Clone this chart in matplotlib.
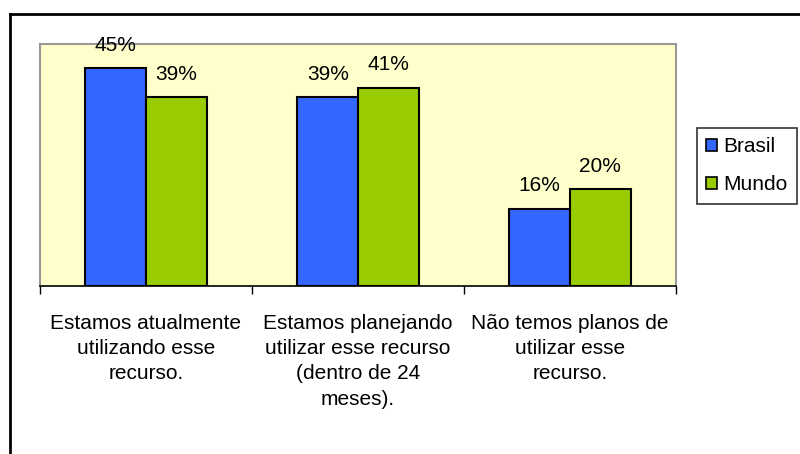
import matplotlib
matplotlib.use("Agg")
import matplotlib.pyplot as plt
from matplotlib.lines import Line2D
from matplotlib.patches import Patch
import numpy as np

plt.rcParams['font.family'] = ['Liberation Sans', 'DejaVu Sans']

categories = ["Estamos atualmente\nutilizando esse\nrecurso.",
              "Estamos planejando\nutilizar esse recurso\n(dentro de 24\nmeses).",
              "Não temos planos de\nutilizar esse\nrecurso."]
series_names = ["Brasil", "Mundo"]
brasil = [45, 39, 16]
mundo = [39, 41, 20]
colors = ["#3366FF", "#99CC00"]

W, H = 800, 454
fig = plt.figure(figsize=(8, 4.54), dpi=100)
ax = fig.add_axes([40 / W, 1 - 286 / H, (676 - 40) / W, (286 - 44) / H])
ax.set_facecolor("#FFFFCC")

x = np.arange(len(categories))
bw = 1 / 3.5
fs = 15
for i, (vals, c, name) in enumerate(zip([brasil, mundo], colors, series_names)):
    pos = x + (i - 0.5) * bw
    ax.bar(pos, vals, width=bw, color=c, edgecolor="black", linewidth=1.5, label=name, zorder=3)
    for p, v in zip(pos, vals):
        ax.annotate(f"{v}%", (p, v), xytext=(0, 16.5), textcoords="offset points",
                    ha="center", va="center", fontsize=fs, color="black")

ax.set_xlim(-0.5, len(categories) - 0.5)
ax.set_ylim(0, 50)
ax.set_yticks([])
ax.set_xticks(np.arange(len(categories) + 1) - 0.5)
ax.set_xticklabels([])
ax.set_xticks(x, minor=True)
ax.set_xticklabels(categories, minor=True, fontsize=fs, linespacing=1.42, va="top")
ax.tick_params(axis="x", which="major", length=6, width=1, color="black", direction="out")
ax.tick_params(axis="x", which="minor", length=0, pad=20)
for s in ["top", "left", "right"]:
    ax.spines[s].set_color("#999999")
    ax.spines[s].set_linewidth(1.5)
ax.spines["bottom"].set_color("black")
ax.spines["bottom"].set_linewidth(1.2)

handles = [Patch(facecolor=c, edgecolor="black", linewidth=1.2) for c in colors]
leg = fig.legend(handles, series_names, loc="upper left",
                 bbox_to_anchor=(697 / W, 1 - 128 / H), fontsize=fs,
                 frameon=True, fancybox=False, edgecolor="black",
                 handlelength=0.5, handleheight=0.5, handletextpad=0.3,
                 labelspacing=0.9, borderpad=0.45, borderaxespad=0)
leg.get_frame().set_linewidth(1.2)

# outer chart border (top and left visible)
fig.add_artist(Line2D([10 / W, 1], [1 - 14 / H, 1 - 14 / H], color="black", linewidth=2, transform=fig.transFigure))
fig.add_artist(Line2D([10 / W, 10 / W], [0, 1 - 14 / H], color="black", linewidth=2, transform=fig.transFigure))

fig.savefig("out.png", dpi=100, facecolor="white")
